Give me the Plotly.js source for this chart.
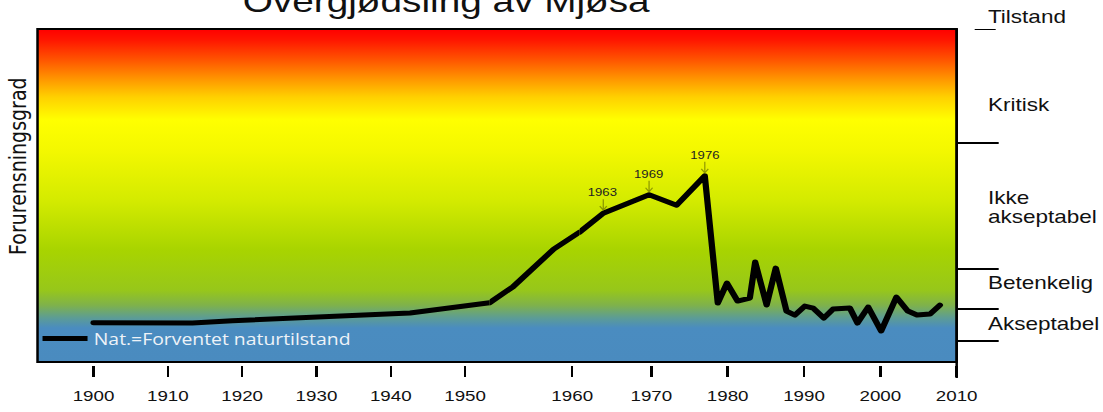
<!DOCTYPE html>
<html>
<head>
<meta charset="utf-8">
<script src="https://cdn.plot.ly/plotly-3.0.1.min.js"></script>
<style>
  html, body { margin: 0; padding: 0; background: #ffffff; overflow: hidden; }
  #wrap { width: 1103px; height: 412px; overflow: hidden; }
  #chart { width: 882px; height: 412px; transform: scaleX(1.25057); transform-origin: 0 0; }
  .scatterlayer path.js-line { stroke-linejoin: round; stroke-linecap: round; }
</style>
</head>
<body>
<div id="wrap"><div id="chart"></div></div>
<script>
// ---- data ----
const titleText = 'Overgjødsling av Mjøsa';
const yTitle = 'Forurensningsgrad';
const legendLabel = 'Nat.=Forventet naturtilstand';
const years = [1900, 1913.3, 1918.7, 1942.6, 1953.3, 1955.2, 1958.5, 1960.6,
  1963.7, 1969.7, 1973.3, 1977.0, 1978.7, 1979.9, 1981.3, 1982.9, 1983.6,
  1985.1, 1986.3, 1987.7, 1988.8, 1990.1, 1991.2, 1992.6, 1993.8, 1996.0,
  1997.0, 1998.4, 2000.1, 2002.1, 2003.6, 2004.8, 2006.5, 2007.8];
const values = [11.8, 11.7, 12.4, 14.7, 17.8, 22.6, 33.9, 39.0,
  44.7, 50.2, 47.1, 55.9, 17.7, 23.7, 18.3, 19.2, 30.0,
  17.1, 28.2, 15.3, 14.1, 16.8, 16.2, 13.2, 15.9, 16.2,
  11.7, 16.5, 9.3, 19.5, 15.3, 14.1, 14.4, 17.1];
const tickYears = [1900, 1910, 1920, 1930, 1940, 1950, 1960, 1970, 1980, 1990, 2000, 2010];
const headerLabel = 'Tilstand';
const levelNames = ['Akseptabel', 'Betenkelig', 'Ikke<br>akseptabel', 'Kritisk'];
const levelBounds = [6.3, 15.9, 27.9, 65.8, 100];
const peakLabels = ['1963', '1969', '1976'];
const peakIdx = [8, 9, 11];

// ---- styling / layout ----
const S = 1103 / 882;                 // horizontal stretch of the picture
const px = v => v / S;                // reference px -> layout px
const W = 919, H = 333;                // plot size in reference px
const frac = x => (x - 38) / W;        // reference px -> paper fraction
const iBreak1 = 4, iBreak2 = 7;        // segments of the hand-drawn time scale
const rA = [1892.46, years[iBreak1]];
const rB = [years[iBreak1], years[iBreak2]];
const rC = [years[iBreak2], 2010];
const dA = [0, frac(490)];
const dB = [frac(490), frac(580)];
const dC = [frac(580), 1];
const yRange = [0, 100];
const segCPaper = yr => dC[0] + (dC[1] - dC[0]) * (yr - rC[0]) / (rC[1] - rC[0]);
const yPaper = v => (v - yRange[0]) / (yRange[1] - yRange[0]);

const gradient = [
  [0, '#4a8bbf'], [0.102, '#4a8cc0'], [0.132, '#5c9c96'], [0.171, '#7fb24a'],
  [0.216, '#97c71a'], [0.336, '#a8d400'], [0.486, '#d4eb00'], [0.637, '#f4f800'],
  [0.727, '#ffff00'], [0.796, '#ffd000'], [0.847, '#ff9900'], [0.907, '#ff5500'],
  [0.967, '#ff1600'], [1, '#ff0000']
];

const lineStyle = { color: '#000000', width: 5 };
const traces = [
  { x: [0, 1, 1, 0], y: [yRange[0], yRange[0], yRange[1], yRange[1]], xaxis: 'x', yaxis: 'y', type: 'scatter',
    mode: 'lines', fill: 'toself', line: { width: 0 }, showlegend: false, hoverinfo: 'skip',
    fillgradient: { type: 'vertical', start: yRange[0], stop: yRange[1], colorscale: gradient } },
  { x: years.slice(0, iBreak1 + 1), y: values.slice(0, iBreak1 + 1), xaxis: 'x2', yaxis: 'y',
    type: 'scatter', mode: 'lines', line: lineStyle, name: legendLabel, showlegend: true },
  { x: years.slice(iBreak1, iBreak2 + 1), y: values.slice(iBreak1, iBreak2 + 1), xaxis: 'x3', yaxis: 'y',
    type: 'scatter', mode: 'lines', line: lineStyle, showlegend: false },
  { x: years.slice(iBreak2), y: values.slice(iBreak2), xaxis: 'x4', yaxis: 'y',
    type: 'scatter', mode: 'lines', line: lineStyle, showlegend: false }
];

const tickFont = { family: 'Liberation Sans, Arial, sans-serif', size: 15, color: '#111111' };
function timeAxis(domain, range) {
  const tv = tickYears.filter(t => t >= range[0] - 1e-6 && t <= range[1] + 1e-6);
  return {
    domain: domain, range: range, anchor: 'y', fixedrange: true,
    tickmode: 'array', tickvals: tv, ticktext: tv.map(String),
    ticks: 'outside', ticklen: 11, tickwidth: 2, tickcolor: '#000000',
    showline: true, linecolor: '#ffffff', linewidth: 4,
    showgrid: false, zeroline: false, tickfont: tickFont, ticklabelstandoff: 6
  };
}

const annotations = [];
annotations.push({ text: titleText, xref: 'paper', yref: 'paper', x: frac(447), y: (362 - 1.3) / H,
  xanchor: 'center', yanchor: 'middle', showarrow: false,
  font: { family: 'Liberation Sans, Arial, sans-serif', size: 31, color: '#111111' } });
annotations.push({ text: yTitle, xref: 'paper', yref: 'paper', x: frac(18), y: (362 - 166) / H, textangle: -90,
  xanchor: 'center', yanchor: 'middle', showarrow: false,
  font: { family: 'DejaVu Sans, sans-serif', size: 19, color: '#111111' } });
const labelFont = { family: 'Liberation Sans, Arial, sans-serif', size: 18, color: '#111111' };
annotations.push({ text: headerLabel, xref: 'paper', yref: 'paper', x: frac(986), y: (362 - 17) / H,
  xanchor: 'left', yanchor: 'middle', showarrow: false, font: labelFont });
const levelLabelY = [11.4, 23.7, 46.5, 77.3];
levelNames.forEach((name, i) => {
  const parts = name.split('<br>');
  parts.forEach((p, j) => {
    annotations.push({ text: p, xref: 'paper', yref: 'paper', x: frac(986),
      y: yPaper(levelLabelY[i] + ((parts.length - 1) / 2 - j) * 5.7),
      xanchor: 'left', yanchor: 'middle', showarrow: false, font: labelFont });
  });
});

const shapes = [
  { type: 'rect', xref: 'paper', yref: 'paper', x0: 0, x1: 1, y0: 0, y1: 1,
    line: { color: '#000000', width: 2 }, layer: 'above' },
  { type: 'line', xref: 'paper', yref: 'paper', x0: 1, x1: 1, y0: 1, y1: (362 - 378) / H,
    line: { color: '#000000', width: 2 }, layer: 'above' }
];
levelBounds.forEach((b, i) => {
  const top = i === levelBounds.length - 1;
  shapes.push({ type: 'line', xref: 'paper', yref: 'y',
    x0: top ? frac(975) : 1, x1: top ? frac(996) : frac(999), y0: b, y1: b,
    line: { color: '#000000', width: 2 } });
});

// peak labels with small pointer arrows
peakIdx.forEach((idx, i) => {
  const xp = segCPaper(years[idx]);
  const yp = yPaper(values[idx]);
  annotations.push({ text: peakLabels[i], xref: 'paper', yref: 'paper', x: xp, y: yp + 21 / H,
    xanchor: 'center', yanchor: 'middle', showarrow: false,
    font: { family: 'Liberation Sans, Arial, sans-serif', size: 10.5, color: '#222222' } });
  const tipY = yp + 3 / H, topY = yp + 14 / H, armX = 3.5 / W, armY = 4 / H;
  shapes.push({ type: 'path', xref: 'paper', yref: 'paper', layer: 'above',
    path: 'M' + xp + ',' + topY + 'L' + xp + ',' + tipY +
          'M' + (xp - armX) + ',' + (tipY + armY) + 'L' + xp + ',' + tipY + 'L' + (xp + armX) + ',' + (tipY + armY),
    line: { color: 'rgba(90,95,0,0.6)', width: 1 } });
});

const layout = {
  width: 882, height: 412,
  margin: { l: px(38), r: px(1103 - 957), t: 29, b: 50, autoexpand: false },
  paper_bgcolor: '#ffffff', plot_bgcolor: 'rgba(0,0,0,0)',
  xaxis: { domain: [0, 1], range: [0, 1], visible: false, fixedrange: true },
  xaxis2: timeAxis(dA, rA),
  xaxis3: timeAxis(dB, rB),
  xaxis4: timeAxis(dC, rC),
  yaxis: { anchor: 'x', range: yRange, visible: false, fixedrange: true },
  showlegend: true,
  legend: { x: frac(36.75), y: (362 - 339) / H, xanchor: 'left', yanchor: 'middle',
    bgcolor: 'rgba(0,0,0,0)', borderwidth: 0, itemwidth: 36,
    font: { family: 'Open Sans, sans-serif', size: 15.5, color: '#eef3f8' } },
  annotations: annotations,
  shapes: shapes
};

Plotly.newPlot('chart', traces, layout, { displayModeBar: false, staticPlot: true });
</script>
</body>
</html>
